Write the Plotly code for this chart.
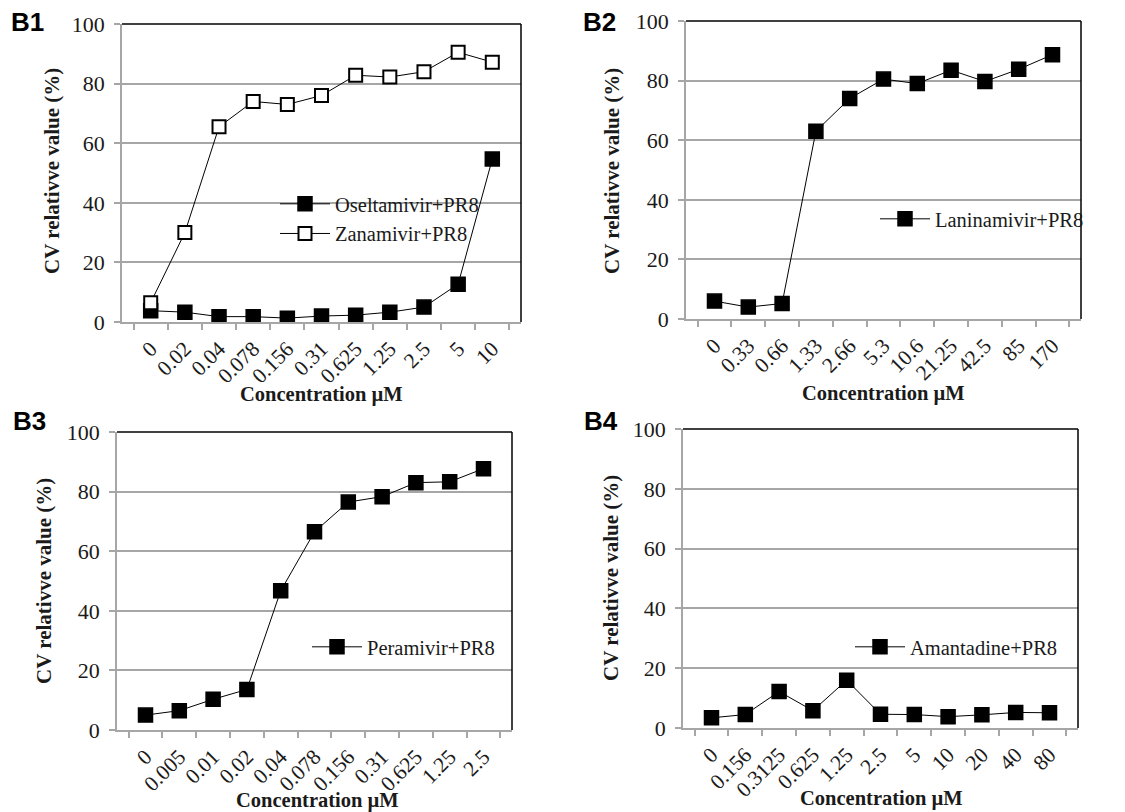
import plotly.graph_objects as go

# ---------------- data ----------------
b1_cats = ["0", "0.02", "0.04", "0.078", "0.156", "0.31", "0.625", "1.25", "2.5", "5", "10"]
oseltamivir = [3.8, 3.3, 1.8, 1.8, 1.3, 2.0, 2.3, 3.3, 5.0, 12.7, 54.7]
zanamivir = [6.5, 30.0, 65.5, 74.0, 73.0, 76.0, 82.8, 82.2, 84.0, 90.5, 87.2]

b2_cats = ["0", "0.33", "0.66", "1.33", "2.66", "5.3", "10.6", "21.25", "42.5", "85", "170"]
laninamivir = [6.0, 4.0, 5.2, 63.0, 74.0, 80.5, 79.0, 83.5, 79.7, 83.8, 88.7]

b3_cats = ["0", "0.005", "0.01", "0.02", "0.04", "0.078", "0.156", "0.31", "0.625", "1.25", "2.5"]
peramivir = [5.0, 6.5, 10.3, 13.6, 46.7, 66.5, 76.5, 78.3, 83.0, 83.3, 87.7]

b4_cats = ["0", "0.156", "0.3125", "0.625", "1.25", "2.5", "5", "10", "20", "40", "80"]
amantadine = [3.4, 4.5, 12.2, 5.8, 16.0, 4.6, 4.5, 3.8, 4.4, 5.2, 5.1]

y_ticks = [0, 20, 40, 60, 80, 100]

# ---------------- layout constants ----------------
W, H = 1125, 812
SERIF = "Liberation Serif"
SANS = "Liberation Sans"
GRID = "#a6a6a6"
TXT = "#1a1a1a"


def px_x(p):
    return p / W


def px_y(p):
    return 1 - p / H


panels = {
    # name: (xaxis, yaxis, left, right, top, bottom) in pixels
    "B1": ("x", "y", 122, 521, 24, 322),
    "B2": ("x2", "y2", 686, 1081, 21, 319),
    "B3": ("x3", "y3", 117, 512, 432, 730),
    "B4": ("x4", "y4", 683, 1078, 429, 728),
}

fig = go.Figure()

line_style = dict(color="black", width=1)
filled = dict(symbol="square", size=14, color="black", line=dict(color="black", width=1.5))
hollow = dict(symbol="square", size=13, color="white", line=dict(color="black", width=2))

fig.add_trace(go.Scatter(x=b1_cats, y=oseltamivir, name="Oseltamivir+PR8", mode="lines+markers",
                         line=line_style, marker=filled, xaxis="x", yaxis="y", legend="legend"))
fig.add_trace(go.Scatter(x=b1_cats, y=zanamivir, name="Zanamivir+PR8", mode="lines+markers",
                         line=line_style, marker=hollow, xaxis="x", yaxis="y", legend="legend"))
fig.add_trace(go.Scatter(x=b2_cats, y=laninamivir, name="Laninamivir+PR8", mode="lines+markers",
                         line=line_style, marker=filled, xaxis="x2", yaxis="y2", legend="legend2"))
fig.add_trace(go.Scatter(x=b3_cats, y=peramivir, name="Peramivir+PR8", mode="lines+markers",
                         line=line_style, marker=filled, xaxis="x3", yaxis="y3", legend="legend3"))
fig.add_trace(go.Scatter(x=b4_cats, y=amantadine, name="Amantadine+PR8", mode="lines+markers",
                         line=line_style, marker=filled, xaxis="x4", yaxis="y4", legend="legend4"))

layout = dict(
    width=W, height=H,
    margin=dict(l=0, r=0, t=0, b=0, autoexpand=False),
    paper_bgcolor="white", plot_bgcolor="white",
    font=dict(family=SERIF, size=20, color=TXT),
    showlegend=True,
)

shapes = []
annotations = []
for name, (xa, ya, l, r, t, b) in panels.items():
    xkey = "xaxis" + xa[1:]
    ykey = "yaxis" + ya[1:]
    layout[xkey] = dict(
        domain=[px_x(l), px_x(r)], anchor=ya, type="category", automargin=False,
        tickson="boundaries", ticks="outside", ticklen=6, tickwidth=1.5, tickcolor=GRID,
        showline=True, linecolor=GRID, linewidth=1.5, showgrid=False, zeroline=False,
        tickangle=-45, tickfont=dict(family=SERIF, size=21.5, color=TXT),
        ticklabelstandoff=4, fixedrange=True,
    )
    layout[ykey] = dict(
        domain=[px_y(b), px_y(t)], anchor=xa, range=[0, 100], tickvals=y_ticks,
        automargin=False,
        ticks="outside", ticklen=6, tickwidth=1.5, tickcolor=GRID,
        showline=True, linecolor=GRID, linewidth=1.5,
        showgrid=True, gridcolor=GRID, gridwidth=1.5, zeroline=False,
        tickfont=dict(family=SERIF, size=22, color=TXT), ticklabelstandoff=5,
        fixedrange=True,
    )
    # black top / right frame
    shapes.append(dict(type="line", xref=xa + " domain", yref=ya + " domain",
                       x0=0, x1=1, y0=1, y1=1, line=dict(color="black", width=1.5)))
    shapes.append(dict(type="line", xref=xa + " domain", yref=ya + " domain",
                       x0=1, x1=1, y0=0, y1=1, line=dict(color="black", width=1.5)))

# axis titles and panel labels
ytitle_pos = {"B1": (52, 171), "B2": (612, 171), "B3": (44, 581), "B4": (611, 578)}
xtitle_pos = {"B1": (321, 394), "B2": (883, 393), "B3": (317, 800), "B4": (881, 798)}
label_pos = {"B1": (27, 22), "B2": (599, 22), "B3": (29, 421), "B4": (601, 421)}

for name in panels:
    x, y = ytitle_pos[name]
    annotations.append(dict(text="<b>CV relativve value (%)</b>", x=px_x(x), y=px_y(y),
                            xref="paper", yref="paper", showarrow=False, textangle=-90,
                            xanchor="center", yanchor="middle",
                            font=dict(family=SERIF, size=21, color=TXT)))
    x, y = xtitle_pos[name]
    annotations.append(dict(text="<b>Concentration µM</b>", x=px_x(x), y=px_y(y),
                            xref="paper", yref="paper", showarrow=False,
                            xanchor="center", yanchor="middle",
                            font=dict(family=SERIF, size=20.5, color=TXT)))
    x, y = label_pos[name]
    annotations.append(dict(text="<b>" + name + "</b>", x=px_x(x), y=px_y(y),
                            xref="paper", yref="paper", showarrow=False,
                            xanchor="center", yanchor="middle",
                            font=dict(family=SANS, size=26, color="black")))

legend_common = dict(bgcolor="rgba(0,0,0,0)", borderwidth=0, xanchor="left", yanchor="middle",
                     font=dict(family=SERIF, size=20.5, color=TXT), itemwidth=50,
                     tracegroupgap=0, itemclick=False, itemdoubleclick=False)
layout["legend"] = dict(legend_common, x=px_x(275), y=px_y(219))
layout["legend2"] = dict(legend_common, x=px_x(875), y=px_y(219))
layout["legend3"] = dict(legend_common, x=px_x(307), y=px_y(647))
layout["legend4"] = dict(legend_common, x=px_x(850), y=px_y(647))

layout["shapes"] = shapes
layout["annotations"] = annotations
fig.update_layout(**layout)

fig.write_html("out.html")
